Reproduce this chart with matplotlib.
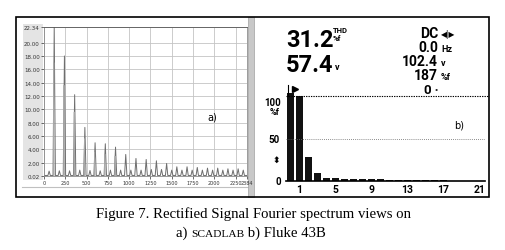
import matplotlib
matplotlib.use("Agg")
import matplotlib.pyplot as plt
from matplotlib.patches import Rectangle
from matplotlib.lines import Line2D
from matplotlib.offsetbox import TextArea, HPacker, AnnotationBbox

W, H = 506, 251

# a) SCADLAB spectrum: harmonic frequencies (Hz) and amplitudes
harm_freq = [60, 120, 180, 240, 300, 360, 420, 480, 540, 600, 660, 720, 780,
             840, 900, 960, 1020, 1080, 1140, 1200, 1260, 1320, 1380, 1440,
             1500, 1560, 1620, 1680, 1740, 1800, 1860, 1920, 1980, 2040, 2100,
             2160, 2220, 2280, 2340]
harm_amp = [0.75, 22.34, 0.8, 18.0, 0.8, 12.2, 0.9, 7.3, 0.85, 5.0, 0.8, 4.85, 0.9,
            4.35, 0.9, 3.25, 0.9, 2.65, 0.9, 2.5, 1.0, 2.3, 1.0, 1.9,
            0.9, 1.4, 0.9, 1.4, 0.9, 1.3, 0.9, 1.2, 0.9, 1.2, 0.9,
            1.1, 0.9, 1.1, 0.9]
# leakage bin just left of the main peaks
leak_freq = [120, 240, 360, 480, 600, 720, 840]
leak_amp = [17.0, 13.6, 9.6, 5.6, 3.6, 3.3, 3.0]
base_level = 0.1

y_ticks = [0.02, 2, 4, 6, 8, 10, 12, 14, 16, 18, 20, 22.34]
y_labels = ["0.02", "2.00", "4.00", "6.00", "8.00", "10.00", "12.00", "14.00",
            "16.00", "18.00", "20.00", "22.34"]
x_ticks = [0, 250, 500, 750, 1000, 1250, 1500, 1750, 2000, 2250, 2384]

# b) Fluke 43B harmonics (% of fundamental), order 0 = DC
orders = list(range(22))
order_pct = [103.5, 100, 28, 10, 3.5, 3.5, 2.2, 2.0, 2.0, 2.0, 2.0, 1.0, 1.0,
             1.0, 1.0, 1.0, 1.0, 1.0, 0, 0, 0, 0]
order_ticks = [1, 5, 9, 13, 17, 21]


def px(x0, y0, x1, y1):
    return [x0 / W, 1 - y1 / H, (x1 - x0) / W, (y1 - y0) / H]


fig = plt.figure(figsize=(W / 100, H / 100), dpi=100)
fig.patch.set_facecolor("white")

# panel decorations
fig.patches.append(Rectangle((23 / W, 1 - 181 / H), 20 / W, 156 / H,
                             transform=fig.transFigure, fc="#e4e4e4", ec="none", zorder=-2))
fig.patches.append(Rectangle((248 / W, 1 - 198 / H), 6 / W, 180 / H,
                             transform=fig.transFigure, fc="#c8c8c8", ec="#a0a0a0", lw=0.5, zorder=-2))
fig.lines.append(Line2D([22 / W, 248 / W], [1 - 188 / H, 1 - 188 / H],
                        transform=fig.transFigure, color="#c0c0c0", lw=0.8, zorder=-2))
fig.patches.append(Rectangle((16 / W, 1 - 198 / H), 473 / W, 180 / H,
                             transform=fig.transFigure, fc="none", ec="black", lw=1.2, zorder=5))

# ---- left: SCADLAB ----
ax1 = fig.add_axes(px(44, 28, 247, 177))
xs, ys = [0], [base_level]
w = 14
for f, a in zip(harm_freq, harm_amp):
    xs += [f - w, f, f + w]
    ys += [base_level, a, base_level]
xs.append(2384)
ys.append(base_level)
ax1.plot(xs, ys, color="#6e6e6e", lw=0.7)
for f, a in zip(leak_freq, leak_amp):
    ax1.plot([f - 9, f - 5, f - 1], [base_level, a, base_level], color="#a8a8a8", lw=0.6)
ax1.set_xlim(0, 2384)
ax1.set_ylim(0.02, 22.34)
ax1.set_yticks(y_ticks)
ax1.set_yticklabels(y_labels)
ax1.set_xticks(x_ticks)
ax1.set_xticklabels([str(t) for t in x_ticks])
ax1.tick_params(axis="y", labelsize=4.0, length=2, width=0.5, pad=1, colors="#333333")
ax1.tick_params(axis="x", labelsize=3.5, length=2, width=0.5, pad=1, colors="#333333")
ax1.grid(True, color="#c4c4c4", lw=0.6)
ax1.set_axisbelow(True)
for s in ax1.spines.values():
    s.set_color("#8a8a8a")
    s.set_linewidth(0.6)
ax1.spines["top"].set_color("#555555")
ax1.text(0.83, 0.4, "a)", transform=ax1.transAxes, fontsize=7, ha="center", va="center")

# ---- right: Fluke 43B ----
ax2 = fig.add_axes(px(286, 88, 485, 182))
ax2.bar(orders, order_pct, width=0.78, color="#111111")
ax2.set_xlim(-0.45, 21.6)
ax2.set_ylim(0, 110.6)
ax2.axhline(100, color="black", lw=0.8, ls=(0, (1.2, 1.0)), xmax=1.02, clip_on=False)
ax2.axhline(50, color="#666666", lw=0.6, ls=(0, (1, 1.5)))
for s in ["top", "right", "left"]:
    ax2.spines[s].set_visible(False)
ax2.spines["bottom"].set_linewidth(1.2)
ax2.set_yticks([])
ax2.set_xticks(order_ticks)
ax2.set_xticklabels([str(t) for t in order_ticks], fontweight="bold", family="Roboto")
ax2.tick_params(axis="x", length=0, pad=2, labelsize=7.5)
ax2.plot([-0.25, -0.25], [100, 113], color="black", lw=0.8, clip_on=False)
ax2.plot([0.55], [108.5], marker=">", ms=4, color="black", clip_on=False)
ax2.text(0.87, 0.6, "b)", transform=ax2.transAxes, fontsize=7, ha="center", va="center")

lcd = ["Roboto", "DejaVu Sans"]
ft = fig.transFigure


def t(x, y, s, size, **kw):
    fig.text(x / W, 1 - y / H, s, fontsize=size, family=lcd, fontweight="bold",
             transform=ft, va="baseline", **kw)


t(281, 106, "100", 7, ha="right")
t(280, 115, "%f", 6.5, ha="right")
t(280, 143, "50", 7, ha="right")
fig.text(280 / W, 1 - 164 / H, "\u2b0d", fontsize=6.5, family=["DejaVu Sans"],
         fontweight="bold", ha="right", va="baseline")
t(281, 185, "0", 7, ha="right")

t(286, 47, "31.2", 17, ha="left")
t(286, 72, "57.4", 17, ha="left")
t(333, 33, "THD", 5.5, ha="left")
t(333, 41, "%f", 5.5, ha="left")
t(335, 70, "v", 6.5, ha="left")

t(438, 38, "DC", 10, ha="right")
fig.text(441 / W, 1 - 37 / H, "\u25c0|\u25b6", fontsize=5.5, family=["DejaVu Sans"],
         ha="left", va="baseline")
t(438, 52, "0.0", 10, ha="right")
t(441, 52, "Hz", 6.5, ha="left")
t(438, 66, "102.4", 10, ha="right")
t(441, 66, "v", 6.5, ha="left")
t(438, 80, "187", 10, ha="right")
t(441, 80, "%f", 6.5, ha="left")
t(431, 94, "0", 9.5, ha="right")
t(435, 94, "\u00b0", 6, ha="left")

# ---- caption ----
serif = ["Liberation Serif", "DejaVu Serif"]
fig.text(254 / W, 1 - 218 / H, "Figure 7. Rectified Signal Fourier spectrum views on",
         fontsize=10.6, family=serif, ha="center", va="baseline")
parts = HPacker(children=[TextArea("a) ", textprops=dict(fontsize=10.6, family=serif)),
                          TextArea("SCADLAB", textprops=dict(fontsize=8.2, family=serif)),
                          TextArea(" b) Fluke 43B", textprops=dict(fontsize=10.6, family=serif))],
                align="baseline", pad=0, sep=0)
ab = AnnotationBbox(parts, (251 / W, 1 - 233 / H), xycoords="figure fraction",
                    frameon=False, box_alignment=(0.5, 0.5), pad=0)
fig.add_artist(ab)

fig.savefig("out.png", dpi=100)
